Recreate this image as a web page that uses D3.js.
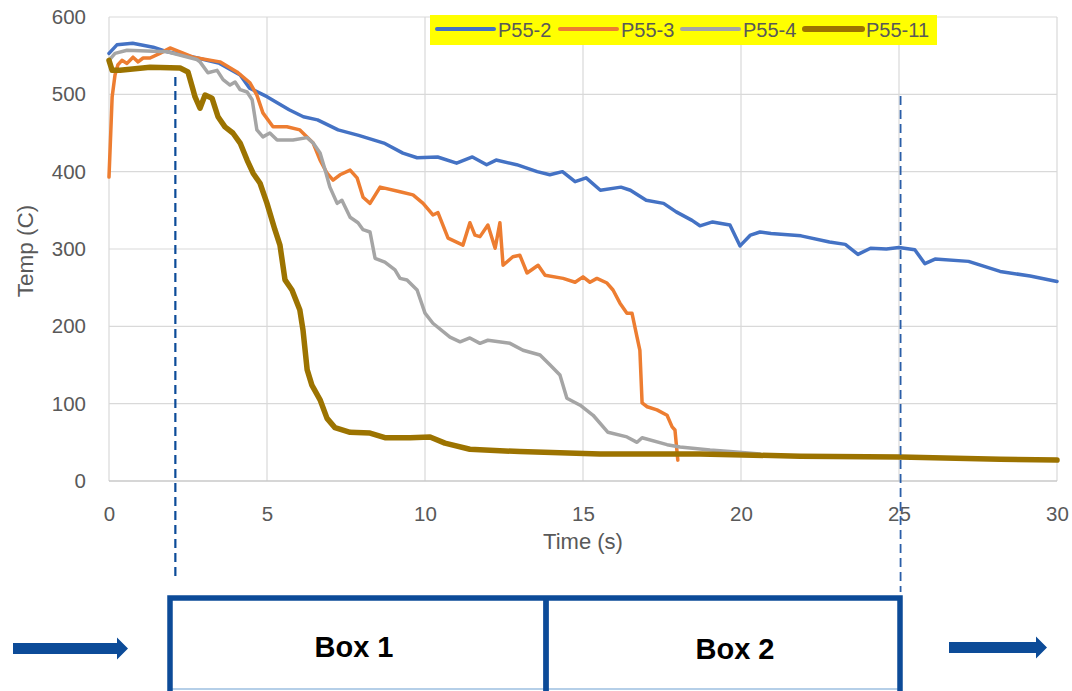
<!DOCTYPE html>
<html>
<head>
<meta charset="utf-8">
<script src="https://cdn.jsdelivr.net/npm/d3@7"></script>
<style>
  body { margin: 0; background: #fff; }
  svg { display: block; }
</style>
</head>
<body>
<svg id="chart" width="1072" height="691"></svg>
<script>
// series values, [time (s), temp (C)]
const p55_2 = [[0,553],[0.25,564],[0.75,566],[1.4,561],[1.85,555],[2.8,547],[3.5,540],[4.15,525],[4.45,508],[5.0,497],[5.7,480],[6.15,471],[6.6,467],[7.25,454],[7.9,447],[8.7,437],[9.3,424],[9.75,418],[10.4,419],[11.0,411],[11.5,419],[11.95,409],[12.25,415],[12.9,409],[13.55,400],[13.95,396],[14.35,400],[14.75,387],[15.1,392],[15.55,376],[16.2,380],[16.5,376],[17.0,363],[17.55,359],[17.95,348],[18.45,337],[18.7,330],[19.1,335],[19.65,331],[19.97,304],[20.3,318],[20.6,322],[20.95,320],[21.9,317],[22.8,309],[23.3,306],[23.7,293],[24.1,301],[24.6,300],[25.0,302],[25.5,299],[25.82,281],[26.14,287],[27.2,284],[28.2,271],[29.15,265],[30,258]]
const p55_3 = [[0,393],[0.1,497],[0.19,525],[0.28,538],[0.41,544],[0.57,540],[0.76,548],[0.92,542],[1.08,547],[1.3,547],[1.61,553],[1.93,560],[2.66,548],[3.51,542],[4.05,529],[4.46,515],[4.68,499],[4.87,476],[5.19,458],[5.63,458],[6.04,454],[6.46,437],[6.68,415],[6.9,398],[7.09,389],[7.31,396],[7.63,402],[7.85,392],[8.04,367],[8.26,359],[8.58,380],[9.21,374],[9.62,370],[9.94,359],[10.25,344],[10.41,347],[10.73,314],[11.2,305],[11.42,334],[11.58,318],[11.74,316],[11.99,331],[12.22,301],[12.37,334],[12.47,279],[12.78,290],[13.0,292],[13.23,269],[13.58,279],[13.8,266],[14.37,262],[14.75,257],[15.0,264],[15.22,257],[15.44,262],[15.76,256],[15.95,247],[16.17,230],[16.39,217],[16.55,217],[16.71,186],[16.8,169],[16.87,101],[17.03,96],[17.34,92],[17.66,85],[17.82,70],[17.91,66],[18.0,27]]
const p55_4 = [[0,544],[0.19,553],[0.57,557],[1.84,555],[2.78,545],[2.88,542],[3.13,528],[3.42,531],[3.61,519],[3.83,512],[3.99,516],[4.15,506],[4.37,503],[4.53,493],[4.68,454],[4.87,445],[5.09,450],[5.32,441],[5.82,441],[6.27,444],[6.46,437],[6.68,424],[6.84,402],[6.99,380],[7.22,359],[7.37,363],[7.63,341],[7.88,334],[8.04,325],[8.26,322],[8.42,288],[8.73,283],[9.05,273],[9.21,262],[9.43,260],[9.75,247],[10.0,217],[10.25,204],[10.79,186],[11.11,180],[11.42,185],[11.74,178],[11.99,182],[12.69,178],[13.1,169],[13.64,163],[13.96,150],[14.27,137],[14.49,107],[14.91,98],[15.32,85],[15.79,63],[16.39,57],[16.71,50],[16.87,56],[17.66,47],[18.07,44],[19.02,40],[19.65,38],[20.6,35]]
const p55_11 = [[0,544],[0.1,531],[0.35,531],[1.3,535],[2.25,534],[2.5,529],[2.66,506],[2.72,497],[2.88,482],[3.04,499],[3.26,495],[3.45,471],[3.67,458],[3.92,450],[4.15,437],[4.37,415],[4.56,398],[4.78,385],[5.0,359],[5.25,325],[5.41,305],[5.57,260],[5.79,247],[6.04,221],[6.14,195],[6.27,144],[6.42,124],[6.68,105],[6.9,81],[7.15,69],[7.63,63],[8.26,62],[8.73,56],[9.53,56],[10.16,57],[10.63,49],[11.42,41],[13.0,38],[15.54,35],[18.7,35],[21.87,32],[25.03,31],[28.2,28],[30,27]]

const seriesNames = ['P55-2', 'P55-3', 'P55-4', 'P55-11']
const seriesData = [p55_2, p55_3, p55_4, p55_11]
const seriesColors = ['#4472c4', '#ed7d31', '#a5a5a5', '#9c7300']
const seriesWidths = [3.5, 3.5, 3.5, 5.5]

const xTicks = [0, 5, 10, 15, 20, 25, 30]
const yTicks = [0, 100, 200, 300, 400, 500, 600]
const markTimes = [2.1, 25.05]   // dashed guides
const boxLabels = ['Box 1', 'Box 2']

const svg = d3.select('#chart')
const x = d3.scaleLinear().domain([0, 30]).range([109, 1057])
const y = d3.scaleLinear().domain([0, 600]).range([481, 17])
const grid = '#d9d9d9'
const txt = '#595959'
const navy = '#0c4b98'

// gridlines
svg.append('g').selectAll('line')
    .data(yTicks.slice(1))
    .enter().append('line')
    .attr('x1', x(0)).attr('x2', x(30))
    .attr('y1', d => y(d)).attr('y2', d => y(d))
    .attr('stroke', grid).attr('stroke-width', 1.2)
svg.append('g').selectAll('line')
    .data(xTicks)
    .enter().append('line')
    .attr('x1', d => x(d)).attr('x2', d => x(d))
    .attr('y1', y(0)).attr('y2', y(600))
    .attr('stroke', grid).attr('stroke-width', 1.2)
svg.append('line')
    .attr('x1', x(0)).attr('x2', x(30))
    .attr('y1', y(0)).attr('y2', y(0))
    .attr('stroke', '#c8c8c8').attr('stroke-width', 1.3)

// axes (labels only, Excel style)
const yAxis = svg.append('g')
    .attr('transform', 'translate(' + (x(0) - 23) + ',0)')
    .call(d3.axisLeft(y).tickValues(yTicks).tickSize(0).tickPadding(0))
yAxis.select('.domain').remove()
yAxis.selectAll('text')
    .attr('fill', txt).attr('font-size', 20.5)
    .attr('font-family', 'Liberation Sans, Arial, sans-serif')

const xAxis = svg.append('g')
    .attr('transform', 'translate(0,' + (y(0) + 25) + ')')
    .call(d3.axisBottom(x).tickValues(xTicks).tickSize(0).tickPadding(0))
xAxis.select('.domain').remove()
xAxis.selectAll('text')
    .attr('fill', txt).attr('font-size', 20.5)
    .attr('font-family', 'Liberation Sans, Arial, sans-serif')

svg.append('text')
    .attr('x', 583).attr('y', 549)
    .attr('text-anchor', 'middle')
    .attr('fill', txt).attr('font-size', 22)
    .attr('font-family', 'Liberation Sans, Arial, sans-serif')
    .text('Time (s)')
svg.append('text')
    .attr('transform', 'translate(33,251) rotate(-90)')
    .attr('text-anchor', 'middle')
    .attr('fill', txt).attr('font-size', 22.5)
    .attr('font-family', 'Liberation Sans, Arial, sans-serif')
    .text('Temp (C)')

// series
const line = d3.line().x(d => x(d[0])).y(d => y(d[1]))
svg.append('g').selectAll('path')
    .data(seriesData)
    .enter().append('path')
    .attr('d', line)
    .attr('fill', 'none')
    .attr('stroke', (d, i) => seriesColors[i])
    .attr('stroke-width', (d, i) => seriesWidths[i])
    .attr('stroke-linejoin', 'round')
    .attr('stroke-linecap', 'round')

// legend
const lg = svg.append('g')
lg.append('rect')
    .attr('x', 430).attr('y', 15).attr('width', 507).attr('height', 30)
    .attr('fill', '#ffff00')
const legX = [437, 560, 682, 805]
seriesNames.forEach((name, i) => {
    lg.append('line')
        .attr('x1', legX[i]).attr('x2', legX[i] + 57)
        .attr('y1', 29).attr('y2', 29)
        .attr('stroke', seriesColors[i])
        .attr('stroke-width', seriesWidths[i] + 0.5)
        .attr('stroke-linecap', 'round')
    lg.append('text')
        .attr('x', legX[i] + 61).attr('y', 37)
        .attr('fill', txt).attr('font-size', 20)
        .attr('font-family', 'Liberation Sans, Arial, sans-serif')
        .text(name)
})

// dashed guides
svg.append('line')
    .attr('x1', x(markTimes[0])).attr('x2', x(markTimes[0]))
    .attr('y1', 77).attr('y2', 578)
    .attr('stroke', navy).attr('stroke-width', 2.2)
    .attr('stroke-dasharray', '9 5')
svg.append('line')
    .attr('x1', x(markTimes[1])).attr('x2', x(markTimes[1]))
    .attr('y1', 96).attr('y2', 592)
    .attr('stroke', '#2a5ea8').attr('stroke-width', 1.8)
    .attr('stroke-dasharray', '9 5')

// boxes
svg.append('line')
    .attr('x1', 168).attr('x2', 902).attr('y1', 689).attr('y2', 689)
    .attr('stroke', '#9dbfe0').attr('stroke-width', 1.5)
svg.append('path')
    .attr('d', 'M170,700 V598 H546 V700 M546,598 H900 V700')
    .attr('fill', 'none')
    .attr('stroke', navy).attr('stroke-width', 5.5)
svg.append('line')
    .attr('x1', 546).attr('x2', 546).attr('y1', 598).attr('y2', 700)
    .attr('stroke', navy).attr('stroke-width', 5)
const boxCx = [354, 735]
boxLabels.forEach((t, i) => {
    svg.append('text')
        .attr('x', boxCx[i]).attr('y', 657 + i * 2)
        .attr('text-anchor', 'middle')
        .attr('font-size', 29).attr('font-weight', 'bold')
        .attr('font-family', 'Liberation Sans, Arial, sans-serif')
        .attr('fill', '#000')
        .text(t)
})

// arrows
function arrow(x0, x1, yc) {
    svg.append('path')
        .attr('d', 'M' + x0 + ',' + (yc - 5.5) + ' H' + (x1 - 11) + ' V' + (yc - 11) +
            ' L' + x1 + ',' + yc + ' L' + (x1 - 11) + ',' + (yc + 11) +
            ' V' + (yc + 5.5) + ' H' + x0 + ' Z')
        .attr('fill', navy)
}
arrow(13, 128, 648.5)
arrow(949, 1047, 647.5)
</script>
</body>
</html>
